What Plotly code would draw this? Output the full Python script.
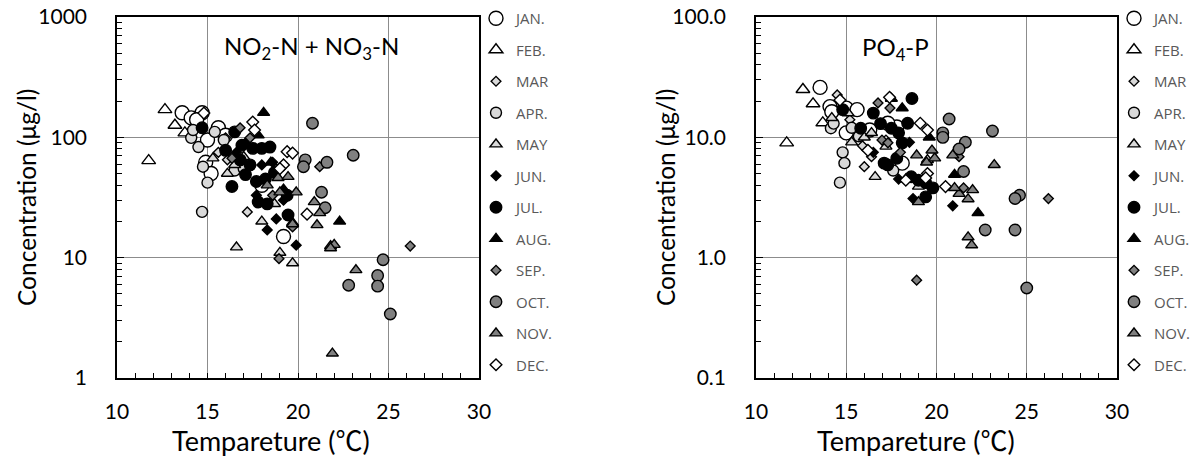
import plotly.graph_objects as go

MONTHS = ["JAN.", "FEB.", "MAR", "APR.", "MAY", "JUN.", "JUL.", "AUG.", "SEP.", "OCT.", "NOV.", "DEC."]

# ---------------- NO2-N + NO3-N (ug/l) vs temperature ----------------
N_JAN_T = [13.6, 14.1, 14.7, 15.6, 14.9, 15.2, 18.0, 19.2, 16.0, 15.0, 14.4]
N_JAN_C = [160, 145, 160, 120, 62, 50, 40, 15, 104, 95, 140]
N_FEB_T = [11.75, 12.65, 13.2, 13.75]
N_FEB_C = [64, 170, 126, 109]
N_MAR_T = [17.2, 16.1, 15.6, 16.0, 15.4]
N_MAR_C = [24, 65, 75, 99, 110]
N_APR_T = [14.1, 14.5, 14.75, 15.0, 14.7, 15.9, 15.4, 14.2, 16.5, 17.0]
N_APR_C = [99, 83, 57, 42, 24, 95, 111, 115, 53, 55]
N_MAY_T = [15.3, 16.5, 17.0, 16.1, 18.0, 16.6, 19.0, 19.7, 19.7, 18.7]
N_MAY_C = [67, 59, 69, 50, 20, 12.2, 11, 9, 19.5, 28]
N_JUN_T = [18.6, 18.0, 18.8, 18.3, 19.9, 17.7, 19.2, 17.1, 16.6]
N_JUN_C = [62, 59, 21, 17, 12.7, 33, 30, 90, 75]
N_JUL_T = [14.7, 16.5, 16.9, 17.5, 18.0, 18.45, 16.35, 17.1, 17.7, 17.8, 18.3, 19.45, 19.4, 18.7, 16.0, 16.8, 17.35, 18.2]
N_JUL_C = [120, 111, 86, 81, 81, 83, 39, 49, 43, 29, 28, 22.6, 33, 51, 78, 65, 59, 45]
N_AUG_T = [18.1, 22.3, 17.8, 19.2, 18.5]
N_AUG_C = [160, 20, 104, 37, 62]
N_SEP_T = [16.8, 17.35, 21.2, 18.6, 19.7, 26.2, 18.95, 16.35]
N_SEP_C = [120, 99, 57, 33, 18, 12.5, 9.8, 67]
N_OCT_T = [20.8, 23.05, 20.4, 21.6, 20.3, 21.3, 21.5, 24.7, 24.4, 22.8, 24.4, 25.1]
N_OCT_C = [131, 71, 65, 62, 57, 35, 26, 9.6, 7.1, 5.9, 5.8, 3.4]
N_NOV_T = [18.9, 19.45, 19.9, 19.0, 20.9, 21.2, 21.05, 21.8, 22.0, 21.8, 23.2, 21.9, 19.7, 18.3]
N_NOV_C = [46, 47, 35, 35, 29, 23.5, 18.7, 12.5, 12.8, 12, 7.9, 1.6, 19, 40]
N_DEC_T = [17.5, 19.4, 19.7, 19.2, 20.5, 14.8, 17.6, 19.0]
N_DEC_C = [134, 76, 74, 59, 23, 159, 115, 55]

# ---------------- PO4-P (ug/l) vs temperature ----------------
P_JAN_T = [13.55, 14.1, 14.2, 15.0, 15.6, 15.0, 17.8, 18.1, 17.3, 16.3]
P_JAN_C = [26, 18, 16.3, 17.5, 17, 10.9, 12.2, 6.1, 13.1, 11.5]
P_FEB_T = [11.7, 12.6, 13.16, 13.7]
P_FEB_C = [9.0, 25, 19, 13.2]
P_MAR_T = [14.5, 16.0, 16.4, 15.9, 17.2, 15.2]
P_MAR_C = [22.5, 5.7, 6.9, 8.5, 9.5, 14]
P_APR_T = [14.15, 14.8, 14.9, 14.65, 17.6, 14.3, 15.3, 15.7]
P_APR_C = [11.9, 7.5, 6.1, 4.2, 5.3, 13, 12, 10.2]
P_MAY_T = [16.6, 15.3, 15.1, 16.0, 16.4, 19.0, 19.5, 17.2, 14.2]
P_MAY_C = [4.7, 9.1, 15.9, 10, 10.9, 3.9, 6.5, 8.4, 14.5]
P_JUN_T = [20.9, 18.7, 18.5, 16.5, 17.9]
P_JUN_C = [2.7, 3.1, 9.1, 7.5, 4.5]
P_JUL_T = [18.64, 16.5, 15.8, 17.5, 17.9, 18.4, 18.1, 17.8, 17.3, 19.4, 19.8, 19.4, 18.6, 19.0, 14.8, 17.1, 16.9]
P_JUL_C = [21, 15.9, 11.9, 11.9, 10.9, 13.1, 9.0, 6.7, 5.9, 3.2, 3.8, 4.2, 4.7, 4.4, 17, 6.1, 13]
P_AUG_T = [17.5, 18.1, 19.6, 21.0, 22.3]
P_AUG_C = [21, 17.5, 10, 4.9, 2.35]
P_SEP_T = [26.2, 21.25, 21.5, 16.76, 17.42, 16.98, 17.31, 18.9, 18.0]
P_SEP_C = [3.1, 6.9, 3.8, 19.3, 17.5, 9.5, 9.0, 0.65, 7.5]
P_OCT_T = [20.7, 23.1, 20.35, 20.35, 21.6, 21.25, 21.5, 24.6, 24.35, 22.7, 24.35, 25.0]
P_OCT_C = [14.2, 11.3, 10.9, 10.0, 9.1, 8.0, 5.2, 3.3, 3.1, 1.7, 1.7, 0.56]
P_NOV_T = [18.9, 19.45, 19.9, 19.0, 20.9, 21.25, 21.0, 21.75, 22.0, 21.75, 23.2, 21.95, 19.75, 18.3]
P_NOV_C = [7.1, 6.2, 6.7, 2.9, 7.1, 3.4, 3.8, 3.07, 3.65, 1.48, 5.9, 1.27, 7.8, 4.5]
P_DEC_T = [17.4, 19.1, 19.5, 20.5, 19.5, 19.4, 18.3, 14.65, 16.2]
P_DEC_C = [21.5, 13.1, 11.5, 3.9, 5.0, 4.6, 4.4, 20.4, 7.8]

N_T = [N_JAN_T, N_FEB_T, N_MAR_T, N_APR_T, N_MAY_T, N_JUN_T, N_JUL_T, N_AUG_T, N_SEP_T, N_OCT_T, N_NOV_T, N_DEC_T]
N_C = [N_JAN_C, N_FEB_C, N_MAR_C, N_APR_C, N_MAY_C, N_JUN_C, N_JUL_C, N_AUG_C, N_SEP_C, N_OCT_C, N_NOV_C, N_DEC_C]
P_T = [P_JAN_T, P_FEB_T, P_MAR_T, P_APR_T, P_MAY_T, P_JUN_T, P_JUL_T, P_AUG_T, P_SEP_T, P_OCT_T, P_NOV_T, P_DEC_T]
P_C = [P_JAN_C, P_FEB_C, P_MAR_C, P_APR_C, P_MAY_C, P_JUN_C, P_JUL_C, P_AUG_C, P_SEP_C, P_OCT_C, P_NOV_C, P_DEC_C]

# styles (symbol, fill, size)
WHITE, LIGHT, BLACK, GREY = "#ffffff", "#d9d9d9", "#000000", "#808080"
STYLES = [
    ("circle", WHITE, 14), ("triangle-up", WHITE, 12), ("diamond", LIGHT, 7.5),
    ("circle", LIGHT, 11), ("triangle-up", LIGHT, 10.5), ("diamond", BLACK, 7.5),
    ("circle", BLACK, 11.5), ("triangle-up", BLACK, 10.5), ("diamond", GREY, 7.5),
    ("circle", GREY, 11.5), ("triangle-up", GREY, 10.5), ("diamond", WHITE, 9),
]

FONT = "Lato, 'Noto Sans CJK JP', sans-serif"
LEG_FONT = "'Open Sans', sans-serif"
W, H = 1196, 461

fig = go.Figure()
for i, m in enumerate(MONTHS):
    sym, fill, size = STYLES[i]
    mk = dict(symbol=sym, color=fill, size=size, line=dict(color="black", width=1.4))
    fig.add_trace(go.Scatter(x=N_T[i], y=N_C[i], mode="markers", name=m, marker=mk,
                             xaxis="x", yaxis="y", legend="legend", legendgroup="n" + m))
    fig.add_trace(go.Scatter(x=P_T[i], y=P_C[i], mode="markers", name=m, marker=mk,
                             xaxis="x2", yaxis="y2", legend="legend2", legendgroup="p" + m))

def px_x(p):
    return p / W

def px_y(p):
    return 1 - p / H

xcommon = dict(range=[10, 30], tickvals=[10, 15, 20, 25, 30], ticks="inside", ticklen=5,
               tickcolor="black", showline=True, linecolor="black", linewidth=1.6, mirror=True,
               showgrid=True, gridcolor="#8c8c8c", gridwidth=1.3, zeroline=False, automargin=False,
               ticklabeloverflow="allow",
               tickfont=dict(family=FONT, size=21, color="black"), ticklabelstandoff=14,
               minor=dict(ticks="inside", dtick=1, ticklen=5, tickcolor="black", showgrid=False))

def ycommon(lo, hi, labels):
    vals = [10 ** k for k in range(lo, hi + 1)]
    minors = [d * 10 ** k for k in range(lo, hi) for d in range(2, 10)]
    return dict(type="log", range=[lo, hi], tickvals=vals, ticktext=labels, ticks="inside",
                ticklen=7, tickcolor="black", showline=True, linecolor="black", linewidth=1.6,
                mirror=True, showgrid=True, gridcolor="#8c8c8c", gridwidth=1.3, zeroline=False,
                automargin=False, ticklabeloverflow="allow",
                tickfont=dict(family=FONT, size=21, color="black"), ticklabelstandoff=24,
                minor=dict(ticks="inside", tickvals=minors, ticklen=5, tickcolor="black", showgrid=False))

legend_common = dict(xanchor="left", yanchor="top", bgcolor="rgba(0,0,0,0)", tracegroupgap=9,
                     font=dict(family=LEG_FONT, size=15, color="#595959"), itemsizing="trace",
                     itemwidth=30, borderwidth=0)

fig.update_layout(
    template="none",
    width=W, height=H, margin=dict(l=0, r=0, t=0, b=0, autoexpand=False),
    paper_bgcolor="white", plot_bgcolor="white", showlegend=True,
    xaxis=dict(domain=[px_x(117), px_x(479)], anchor="y", **xcommon),
    yaxis=dict(domain=[px_y(378), px_y(17)], anchor="x", **ycommon(0, 3, ["1", "10", "100", "1000"])),
    xaxis2=dict(domain=[px_x(756), px_x(1117)], anchor="y2", **xcommon),
    yaxis2=dict(domain=[px_y(378), px_y(17)], anchor="x2", **ycommon(-1, 2, ["0.1", "1.0", "10.0", "100.0"])),
    legend=dict(x=px_x(476), y=px_y(2), **legend_common),
    legend2=dict(x=px_x(1114), y=px_y(2), **legend_common),
)

ann_font = dict(family=FONT, size=24, color="black")
fig.add_annotation(text="NO<sub>2</sub>-N + NO<sub>3</sub>-N", x=15.8, y=2.75, xref="x", yref="y",
                   xanchor="left", yanchor="middle", showarrow=False, font=ann_font)
fig.add_annotation(text="PO<sub>4</sub>-P", x=15.75, y=1.74, xref="x2", yref="y2",
                   xanchor="left", yanchor="middle", showarrow=False, font=ann_font)

XTITLE = "Tempareture (<span style='font-family:Noto Sans CJK JP'>℃</span>)"
for xc, yc, txt, ang, fs in [
    (27, 198, "Concentration (μg/l)", -90, 24.5),
    (666, 198, "Concentration (μg/l)", -90, 24.5),
    (271, 439, XTITLE, 0, 27),
    (916, 439, XTITLE, 0, 27),
]:
    fig.add_annotation(text=txt, x=px_x(xc), y=px_y(yc), xref="paper", yref="paper",
                       xanchor="center", yanchor="middle", showarrow=False,
                       textangle=ang, font=dict(family=FONT, size=fs, color="black"))

# remove the browser's default 8 px page margin so the figure sits at the window origin
fig.write_html("out.html", config={"displayModeBar": False},
               post_script="document.body.style.margin='0px';")
